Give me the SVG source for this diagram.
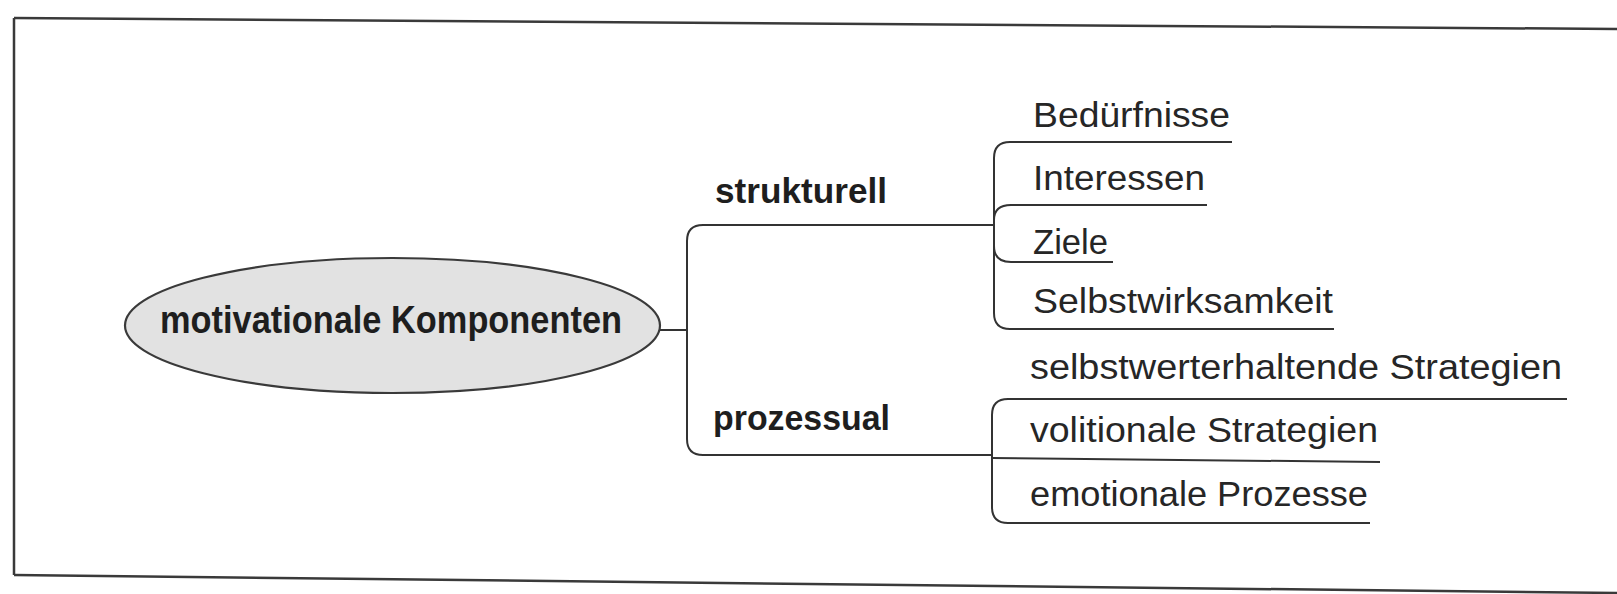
<svg xmlns="http://www.w3.org/2000/svg" width="1617" height="594" viewBox="0 0 1617 594">
<style>
.frame{fill:none;stroke:#3a3a3a;stroke-width:2.5}
.ln{fill:none;stroke:#333;stroke-width:2}
.bold{font-family:"Liberation Sans Narrow","Liberation Sans",Arial,sans-serif;font-weight:bold;fill:#1e1e1e}
.reg{font-family:"Liberation Sans Narrow","Liberation Sans",Arial,sans-serif;font-size:35px;fill:#262626}
</style>
<rect x="0" y="0" width="1617" height="594" fill="#ffffff"/>
<g id="frame">
<path class="frame" d="M14 18 L1617 29"/>
<path class="frame" d="M14 18 V575"/>
<path class="frame" d="M14 575 L1617 593"/>
</g>
<g id="connectors">
<path class="ln" d="M660 330 H687"/>
<path class="ln" d="M994 225 H703 Q687 225 687 241 V439 Q687 455 703 455 H992"/>
<path class="ln" d="M1232 142 H1010 Q994 142 994 158 V313 Q994 329 1010 329 H1334"/>
<path class="ln" d="M1207 205 H1011 Q994 205 994 220 V246 Q994 262 1011 262 H1113"/>
<path class="ln" d="M1567 399 H1008 Q992 399 992 415 V507 Q992 523 1008 523 H1370"/>
<path class="ln" d="M992 458 L1380 462"/>
</g>
<g id="root">
<ellipse cx="392.5" cy="325.5" rx="267.5" ry="67.5" fill="#e2e2e2" stroke="#3a3a3a" stroke-width="2.2"/>
<text class="bold" x="160" y="333" font-size="39" textLength="462" lengthAdjust="spacingAndGlyphs">motivationale Komponenten</text>
</g>
<g id="strukturell">
<text class="bold" x="715" y="203" font-size="35" textLength="172" lengthAdjust="spacingAndGlyphs">strukturell</text>
</g>
<g id="prozessual">
<text class="bold" x="713" y="430" font-size="35" textLength="177" lengthAdjust="spacingAndGlyphs">prozessual</text>
</g>
<g id="beduerfnisse"><text class="reg" x="1033" y="127" textLength="197" lengthAdjust="spacingAndGlyphs">Bedürfnisse</text></g>
<g id="interessen"><text class="reg" x="1033" y="190" textLength="172" lengthAdjust="spacingAndGlyphs">Interessen</text></g>
<g id="ziele"><text class="reg" x="1033" y="254" textLength="75" lengthAdjust="spacingAndGlyphs">Ziele</text></g>
<g id="selbstwirksamkeit"><text class="reg" x="1033" y="313" textLength="300" lengthAdjust="spacingAndGlyphs">Selbstwirksamkeit</text></g>
<g id="selbstwerterhaltende"><text class="reg" x="1030" y="379" textLength="532" lengthAdjust="spacingAndGlyphs">selbstwerterhaltende Strategien</text></g>
<g id="volitionale"><text class="reg" x="1030" y="442" textLength="348" lengthAdjust="spacingAndGlyphs">volitionale Strategien</text></g>
<g id="emotionale"><text class="reg" x="1030" y="506" textLength="338" lengthAdjust="spacingAndGlyphs">emotionale Prozesse</text></g>
</svg>
